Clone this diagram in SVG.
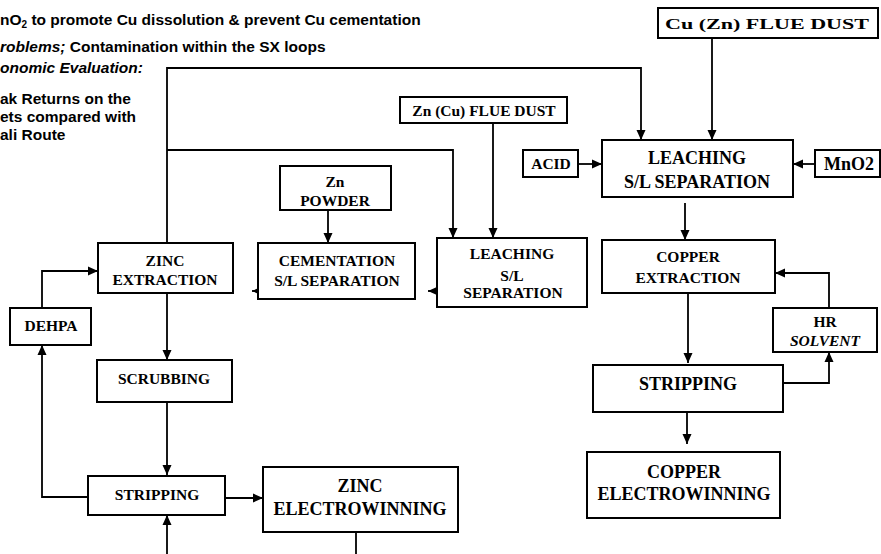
<svg xmlns="http://www.w3.org/2000/svg" width="881" height="554" viewBox="0 0 881 554">
<defs>
<marker id="ah" viewBox="0 0 10 10" refX="10" refY="5" markerWidth="10" markerHeight="10" markerUnits="userSpaceOnUse" orient="auto"><path d="M0,0.5 L10,5 L0,9.5 z" fill="#000"/></marker>
<style>
.note{font-family:"Liberation Sans",Arial,sans-serif;font-weight:bold;font-size:15.5px;fill:#000}
.box{fill:#fff;stroke:#000;stroke-width:2}
.t{font-family:"Liberation Serif","Times New Roman",serif;font-weight:bold;font-size:15.5px;fill:#000;text-anchor:middle}
.t18{font-size:18px}
.c{fill:none;stroke:#000;stroke-width:1.8}
.a{marker-end:url(#ah)}
</style>
</defs>
<rect width="881" height="554" fill="#fff"/>
<g id="notes">
<text class="note" x="0" y="25">nO<tspan font-size="10" dy="3">2</tspan><tspan dy="-3"> to promote Cu dissolution &amp; prevent Cu cementation</tspan></text>
<text class="note" x="0" y="52"><tspan font-style="italic">roblems;</tspan> Contamination within the SX loops</text>
<text class="note" x="0" y="73" font-style="italic">onomic Evaluation:</text>
<text class="note" x="0" y="104">ak Returns on the</text>
<text class="note" x="0" y="122">ets compared with</text>
<text class="note" x="0" y="140">ali Route</text>
</g>
<g id="connectors">
<polyline class="c a" points="167,243 167,68 641,68 641,140"/>
<polyline class="c a" points="167,150 453,150 453,238"/>
<line class="c a" x1="493" y1="123" x2="493" y2="238"/>
<line class="c a" x1="712" y1="37" x2="712" y2="140"/>
<line class="c a" x1="578" y1="164" x2="602" y2="164"/>
<line class="c a" x1="815" y1="164" x2="793" y2="164"/>
<line class="c a" x1="685" y1="203" x2="685" y2="240"/>
<line class="c a" x1="448" y1="291" x2="428" y2="291"/>
<line class="c a" x1="275" y1="291" x2="252" y2="291"/>
<line class="c a" x1="328" y1="210" x2="328" y2="243"/>
<line class="c a" x1="167" y1="293" x2="167" y2="360"/>
<line class="c a" x1="167" y1="402" x2="167" y2="475"/>
<line class="c a" x1="225" y1="498" x2="263" y2="498"/>
<polyline class="c a" points="88,497 42,497 42,345"/>
<polyline class="c a" points="42,308 42,271 98,271"/>
<line class="c a" x1="167" y1="554" x2="167" y2="515"/>
<line class="c" x1="356" y1="532" x2="356" y2="554"/>
<line class="c a" x1="688" y1="293" x2="688" y2="363"/>
<polyline class="c a" points="783,383 829,383 829,352"/>
<polyline class="c a" points="829,308 829,273 775,273"/>
<line class="c a" x1="687" y1="412" x2="687" y2="444"/>
</g>
<g id="cu-zn-flue-dust"><rect class="box" x="658" y="8" width="220" height="30"/><text class="t" x="767" y="29" font-size="18" textLength="204" lengthAdjust="spacingAndGlyphs">Cu (Zn) FLUE DUST</text></g>
<g id="zn-cu-flue-dust"><rect class="box" x="400" y="97" width="167" height="26"/><text class="t" x="484" y="116">Zn (Cu) FLUE DUST</text></g>
<g id="acid"><rect class="box" x="523" y="150" width="55" height="27"/><text class="t" x="551" y="169">ACID</text></g>
<g id="leaching-cu"><rect class="box" x="602" y="140" width="191" height="57"/><text class="t t18" x="697" y="164">LEACHING</text><text class="t t18" x="697" y="188">S/L SEPARATION</text></g>
<g id="mno2"><rect class="box" x="815" y="150" width="65" height="27"/><text class="t t18" x="849" y="170">MnO2</text></g>
<g id="zn-powder"><rect class="box" x="280" y="166" width="111" height="44"/><text class="t" x="335" y="187">Zn</text><text class="t" x="335" y="206">POWDER</text></g>
<g id="zinc-extraction"><rect class="box" x="98" y="243" width="135" height="50"/><text class="t" x="165" y="266">ZINC</text><text class="t" x="165" y="285">EXTRACTION</text></g>
<g id="cementation"><rect class="box" x="258" y="243" width="157" height="56"/><text class="t" x="337" y="266">CEMENTATION</text><text class="t" x="337" y="286">S/L SEPARATION</text></g>
<g id="leaching-zn"><rect class="box" x="437" y="238" width="150" height="69"/><text class="t" x="512" y="259">LEACHING</text><text class="t" x="512" y="281">S/L</text><text class="t" x="513" y="298">SEPARATION</text></g>
<g id="copper-extraction"><rect class="box" x="602" y="240" width="173" height="53"/><text class="t" x="688" y="262">COPPER</text><text class="t" x="688" y="283">EXTRACTION</text></g>
<g id="dehpa"><rect class="box" x="10" y="308" width="81" height="37"/><text class="t" x="51" y="331">DEHPA</text></g>
<g id="hr-solvent"><rect class="box" x="773" y="308" width="104" height="44"/><text class="t" x="825" y="327">HR</text><text class="t" x="825" y="346" font-style="italic">SOLVENT</text></g>
<g id="scrubbing"><rect class="box" x="97" y="360" width="135" height="42"/><text class="t" x="164" y="384">SCRUBBING</text></g>
<g id="stripping-cu"><rect class="box" x="593" y="365" width="190" height="47"/><text class="t t18" x="688" y="390">STRIPPING</text></g>
<g id="copper-ew"><rect class="box" x="587" y="452" width="193" height="66"/><text class="t t18" x="684" y="478">COPPER</text><text class="t t18" x="684" y="500">ELECTROWINNING</text></g>
<g id="stripping-zn"><rect class="box" x="88" y="476" width="137" height="39"/><text class="t" x="157" y="500">STRIPPING</text></g>
<g id="zinc-ew"><rect class="box" x="263" y="467" width="195" height="65"/><text class="t t18" x="360" y="492">ZINC</text><text class="t t18" x="360" y="515">ELECTROWINNING</text></g>
</svg>
